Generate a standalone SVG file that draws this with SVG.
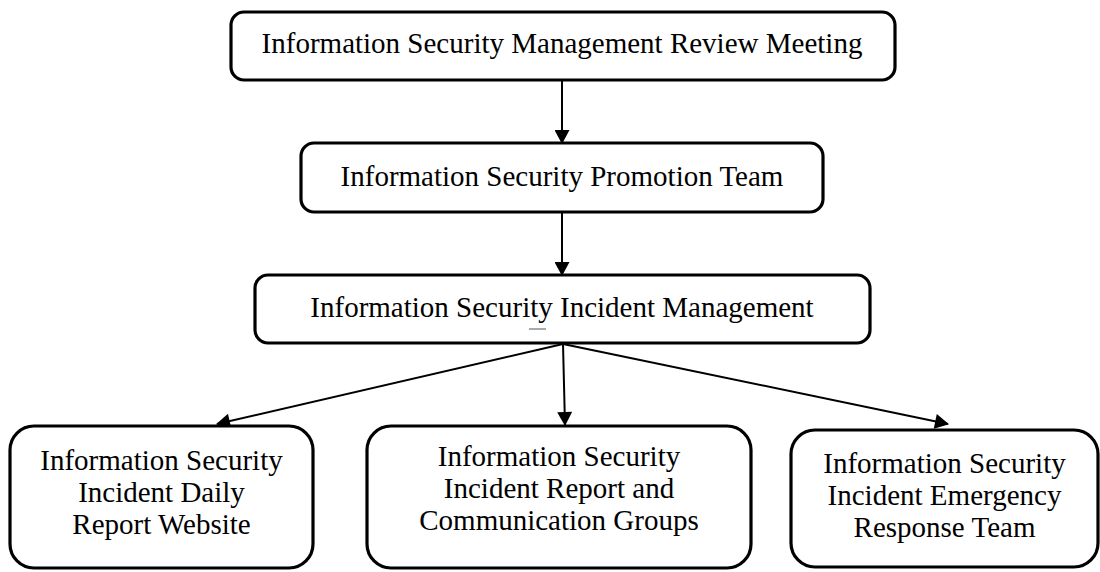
<svg xmlns="http://www.w3.org/2000/svg" width="1100" height="572" viewBox="0 0 1100 572">
<style>
.box{fill:#fff;stroke:#000;stroke-width:3.2}
.txt{font-family:"Liberation Serif","Times New Roman",serif;font-size:29px;fill:#000;text-anchor:middle}
.conn{stroke:#000;stroke-width:2;fill:none}
</style>
<defs>
<marker id="ah" markerUnits="userSpaceOnUse" markerWidth="15" markerHeight="15" viewBox="0 0 14 15" refX="13" refY="7.5" orient="auto">
<path d="M0,0 L14,7.5 L0,15 z" fill="#000"/>
</marker>
</defs>
<rect width="1100" height="572" fill="#fff"/>
<g id="connectors">
<line class="conn" x1="562" y1="81" x2="562" y2="143" marker-end="url(#ah)"/>
<line class="conn" x1="562" y1="213" x2="562" y2="275" marker-end="url(#ah)"/>
<line class="conn" x1="563" y1="344" x2="217" y2="424" marker-end="url(#ah)"/>
<line class="conn" x1="563" y1="344" x2="565" y2="425" marker-end="url(#ah)"/>
<line class="conn" x1="563" y1="344" x2="948" y2="424" marker-end="url(#ah)"/>
</g>
<g id="review-meeting">
<rect class="box" x="231" y="12" width="664" height="68" rx="13"/>
<text class="txt" x="562" y="53">Information Security Management Review Meeting</text>
</g>
<g id="promotion-team">
<rect class="box" x="301" y="143" width="522" height="69" rx="13"/>
<text class="txt" x="562" y="186">Information Security Promotion Team</text>
</g>
<g id="incident-management">
<rect class="box" x="255" y="275" width="615" height="68" rx="13"/>
<text class="txt" x="562" y="317">Information Security Incident Management</text>
<line x1="529" y1="329" x2="546" y2="329" stroke="#555" stroke-width="1"/>
</g>
<g id="daily-report-website">
<rect class="box" x="10" y="426" width="303" height="142" rx="24"/>
<text class="txt" x="161.5" y="470">Information Security</text>
<text class="txt" x="161.5" y="502">Incident Daily</text>
<text class="txt" x="161.5" y="534">Report Website</text>
</g>
<g id="communication-groups">
<rect class="box" x="367" y="426" width="384" height="142" rx="24"/>
<text class="txt" x="559" y="466">Information Security</text>
<text class="txt" x="559" y="498">Incident Report and</text>
<text class="txt" x="559" y="530">Communication Groups</text>
</g>
<g id="emergency-response-team">
<rect class="box" x="791" y="430" width="307" height="137" rx="24"/>
<text class="txt" x="944.5" y="473">Information Security</text>
<text class="txt" x="944.5" y="505">Incident Emergency</text>
<text class="txt" x="944.5" y="537">Response Team</text>
</g>
</svg>
